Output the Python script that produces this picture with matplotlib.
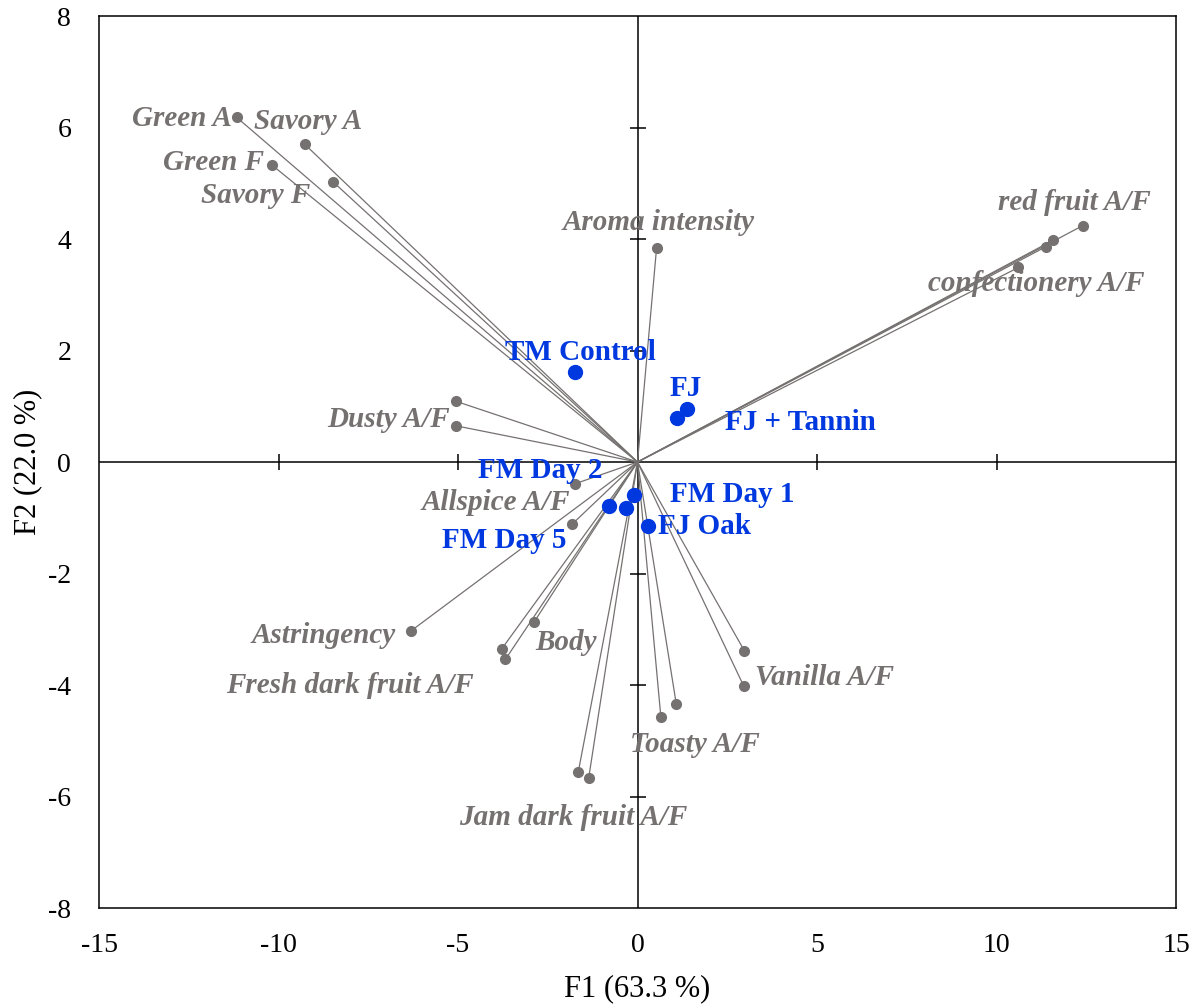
import numpy as np
from matplotlib import pyplot as plt

plt.rcParams['font.family'] = ['Liberation Serif', 'DejaVu Serif']
plt.rcParams['axes.unicode_minus'] = False

# variable loadings (F1, F2)
var_names = ["Green A", "Savory A", "Green F", "Savory F",
             "Aroma intensity",
             "red fruit A/F", "red fruit A/F", "confectionery A/F", "confectionery A/F",
             "Dusty A/F", "Dusty A/F", "Allspice A/F", "Allspice A/F",
             "Astringency", "Body", "Fresh dark fruit A/F", "Fresh dark fruit A/F",
             "Jam dark fruit A/F", "Jam dark fruit A/F", "Toasty A/F", "Toasty A/F",
             "Vanilla A/F", "Vanilla A/F"]
var_f1 = [-11.16, -9.27, -10.17, -8.47,
          0.53,
          12.40, 11.58, 11.37, 10.61,
          -5.06, -5.06, -1.74, -1.83,
          -6.31, -2.88, -3.78, -3.68,
          -1.65, -1.36, 1.08, 0.65,
          2.98, 2.96]
var_f2 = [6.18, 5.70, 5.32, 5.02,
          3.83,
          4.24, 3.98, 3.86, 3.49,
          1.09, 0.65, -0.39, -1.12,
          -3.03, -2.87, -3.35, -3.54,
          -5.56, -5.67, -4.34, -4.57,
          -3.39, -4.02]

# observations (F1, F2)
obs_names = ["TM Control", "FJ", "FJ + Tannin", "FM Day 1", "FM Day 2", "FM Day 5", "FJ Oak"]
obs_f1 = [-1.74, 1.39, 1.11, -0.09, -0.79, -0.33, 0.29]
obs_f2 = [1.61, 0.95, 0.79, -0.59, -0.79, -0.82, -1.14]

# label positions (centre of text, data units)
var_label_pos = {
    "Green A": (-12.70, 6.16), "Savory A": (-9.19, 6.10),
    "Green F": (-11.82, 5.37), "Savory F": (-10.63, 4.78),
    "Aroma intensity": (0.58, 4.29), "red fruit A/F": (12.16, 4.65),
    "confectionery A/F": (11.11, 3.21), "Dusty A/F": (-6.94, 0.76),
    "Allspice A/F": (-3.94, -0.73), "Astringency": (-8.75, -3.12),
    "Body": (-1.99, -3.24), "Fresh dark fruit A/F": (-8.02, -4.01),
    "Vanilla A/F": (5.22, -3.87), "Toasty A/F": (1.59, -5.07),
    "Jam dark fruit A/F": (-1.78, -6.38),
}
obs_label_pos = {
    "TM Control": (-1.59, 1.96), "FJ": (1.35, 1.31), "FJ + Tannin": (4.55, 0.70),
    "FM Day 2": (-2.70, -0.16), "FM Day 1": (2.63, -0.59),
    "FJ Oak": (1.88, -1.16), "FM Day 5": (-3.70, -1.40),
}

xticks = [-15, -10, -5, 0, 5, 10, 15]
yticks = [-8, -6, -4, -2, 0, 2, 4, 6, 8]

gray = '#767171'
blue = '#0038E0'

fig = plt.figure(figsize=(12, 10.08), dpi=100)
ax = fig.add_axes([0.0825, 0.0992, 0.8975, 0.8849])

ax.axhline(0, color='black', lw=1.1, zorder=1)
ax.axvline(0, color='black', lw=1.1, zorder=1)
# tick marks crossing the centre axes
inner_x = [t for t in xticks if t not in (0, xticks[0], xticks[-1])]
inner_y = [t for t in yticks if t not in (0, yticks[0], yticks[-1])]
ax.plot(inner_x, np.zeros(len(inner_x)), ls='none', marker='|', ms=12, mew=1.1, color='black', zorder=1)
ax.plot(np.zeros(len(inner_y)), inner_y, ls='none', marker='_', ms=12, mew=1.1, color='black', zorder=1)

for x, y in zip(var_f1, var_f2):
    ax.plot([0, x], [0, y], color=gray, lw=0.9, zorder=2)
ax.plot(var_f1, var_f2, ls='none', marker='o', ms=7, color=gray, zorder=3)
ax.plot(obs_f1, obs_f2, ls='none', marker='o', ms=10, color=blue, zorder=4)

for name, (x, y) in var_label_pos.items():
    ax.text(x, y, name, color=gray, fontsize=21, fontweight='bold', fontstyle='italic',
            ha='center', va='center', zorder=5)
for name, (x, y) in obs_label_pos.items():
    ax.text(x, y, name, color=blue, fontsize=21, fontweight='bold',
            ha='center', va='center', zorder=5)

ax.set_xlim(-15, 15)
ax.set_ylim(-8, 8)
ax.set_xticks(xticks)
ax.set_yticks(yticks)
ax.tick_params(length=0, labelsize=20)
ax.tick_params(axis='x', pad=18)
ax.tick_params(axis='y', pad=20)
for s in ax.spines.values():
    s.set_linewidth(1.1)
ax.set_xlabel("F1 (63.3 %)", fontsize=22, labelpad=12)
ax.set_ylabel("F2 (22.0 %)", fontsize=22, labelpad=4)

fig.savefig("out.png", dpi=100)
